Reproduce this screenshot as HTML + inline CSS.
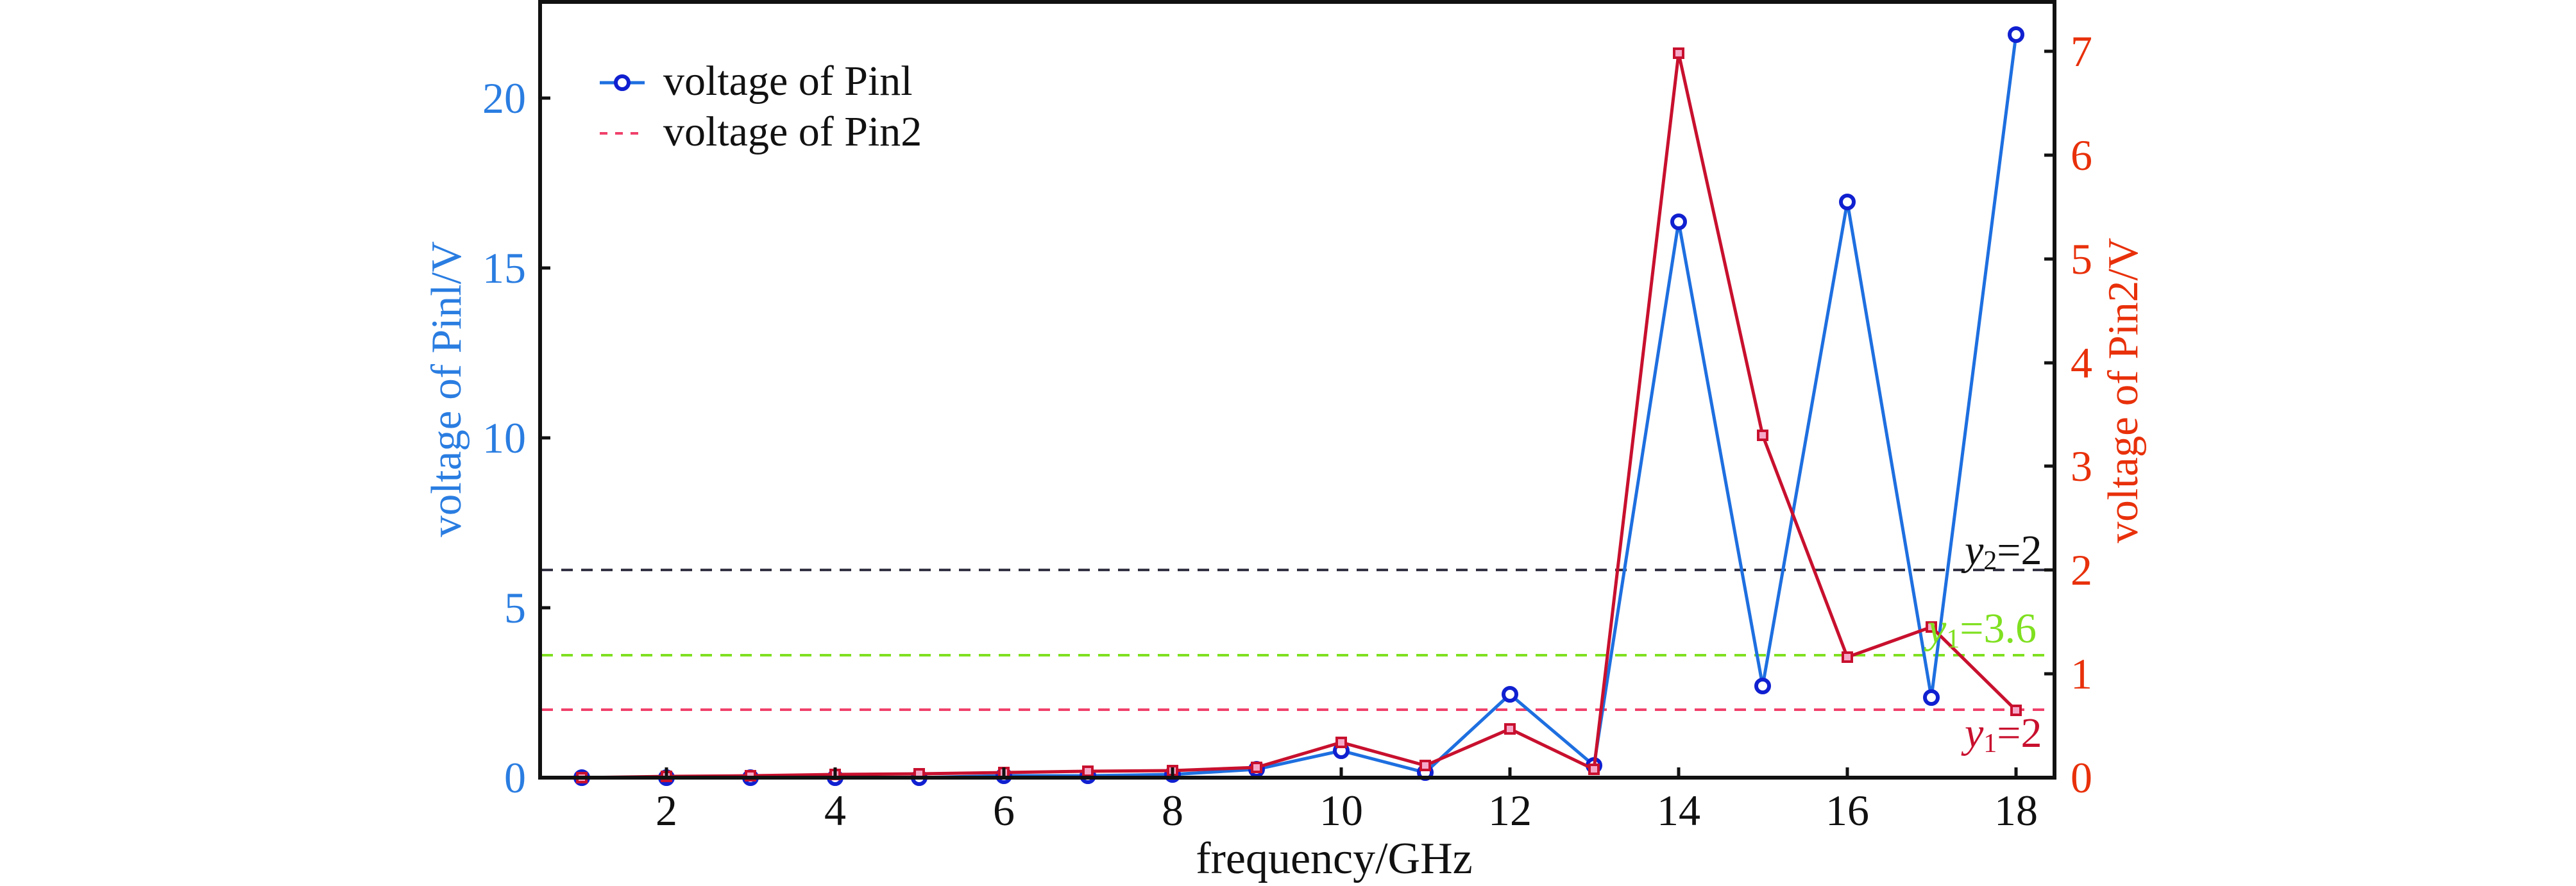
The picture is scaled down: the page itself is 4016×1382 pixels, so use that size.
<!DOCTYPE html>
<html><head><meta charset="utf-8"><style>html,body{margin:0;padding:0;background:#fff}svg{display:block}</style></head><body>
<svg width="4016" height="1382" viewBox="0 0 4016 1382" xmlns="http://www.w3.org/2000/svg" font-family="Liberation Serif, serif">
<rect width="4016" height="1382" fill="#fff"/>
<line x1="844" y1="889" x2="3203" y2="889" stroke="#333344" stroke-width="4" stroke-dasharray="18,13"/>
<line x1="844" y1="1022" x2="3203" y2="1022" stroke="#7fe020" stroke-width="4" stroke-dasharray="18,13"/>
<line x1="844" y1="1107" x2="3203" y2="1107" stroke="#f0406a" stroke-width="4" stroke-dasharray="18,13"/>
<polyline fill="none" stroke="#1e6fe0" stroke-width="5" points="907,1213 1039,1213 1170,1213 1302,1213 1433,1213 1565,1210 1696,1210 1828,1208 1959,1200 2091,1171 2222,1205 2354,1083 2485,1194 2617,346 2748,1070 2880,315 3011,1088 3143,54"/>
<g fill="#fff" stroke="#1020d0" stroke-width="6">
<circle cx="907" cy="1213" r="10"/><circle cx="1039" cy="1213" r="10"/><circle cx="1170" cy="1213" r="10"/><circle cx="1302" cy="1213" r="10"/><circle cx="1433" cy="1213" r="10"/><circle cx="1565" cy="1210" r="10"/><circle cx="1696" cy="1210" r="10"/><circle cx="1828" cy="1208" r="10"/><circle cx="1959" cy="1200" r="10"/><circle cx="2091" cy="1171" r="10"/><circle cx="2222" cy="1205" r="10"/><circle cx="2354" cy="1083" r="10"/><circle cx="2485" cy="1194" r="10"/><circle cx="2617" cy="346" r="10"/><circle cx="2748" cy="1070" r="10"/><circle cx="2880" cy="315" r="10"/><circle cx="3011" cy="1088" r="10"/><circle cx="3143" cy="54" r="10"/>
</g>
<polyline fill="none" stroke="#c8102e" stroke-width="5" points="907,1213 1039,1211 1170,1210 1302,1208 1433,1207 1565,1205 1696,1203 1828,1202 1959,1197 2091,1158 2222,1194 2354,1137 2485,1200 2617,83 2748,679 2880,1025 3011,978 3143,1108"/>
<g fill="#f6a8c8" stroke="#c8102e" stroke-width="4">
<rect x="900" y="1206" width="14" height="14"/><rect x="1032" y="1204" width="14" height="14"/><rect x="1163" y="1203" width="14" height="14"/><rect x="1295" y="1201" width="14" height="14"/><rect x="1426" y="1200" width="14" height="14"/><rect x="1558" y="1198" width="14" height="14"/><rect x="1689" y="1196" width="14" height="14"/><rect x="1821" y="1195" width="14" height="14"/><rect x="1952" y="1190" width="14" height="14"/><rect x="2084" y="1151" width="14" height="14"/><rect x="2215" y="1187" width="14" height="14"/><rect x="2347" y="1130" width="14" height="14"/><rect x="2478" y="1193" width="14" height="14"/><rect x="2610" y="76" width="14" height="14"/><rect x="2741" y="672" width="14" height="14"/><rect x="2873" y="1018" width="14" height="14"/><rect x="3004" y="971" width="14" height="14"/><rect x="3136" y="1101" width="14" height="14"/>
</g>
<rect x="842" y="3" width="2361" height="1210" fill="none" stroke="#111" stroke-width="6"/>
<g stroke="#111" stroke-width="5">
<line x1="1039" y1="1213" x2="1039" y2="1197"/><line x1="1302" y1="1213" x2="1302" y2="1197"/><line x1="1565" y1="1213" x2="1565" y2="1197"/><line x1="1828" y1="1213" x2="1828" y2="1197"/><line x1="2091" y1="1213" x2="2091" y2="1197"/><line x1="2354" y1="1213" x2="2354" y2="1197"/><line x1="2617" y1="1213" x2="2617" y2="1197"/><line x1="2880" y1="1213" x2="2880" y2="1197"/><line x1="3143" y1="1213" x2="3143" y2="1197"/>
<line x1="842" y1="948" x2="858" y2="948"/><line x1="842" y1="683" x2="858" y2="683"/><line x1="842" y1="418" x2="858" y2="418"/><line x1="842" y1="153" x2="858" y2="153"/>
<line x1="3203" y1="1051" x2="3187" y2="1051"/><line x1="3203" y1="889" x2="3187" y2="889"/><line x1="3203" y1="727" x2="3187" y2="727"/><line x1="3203" y1="566" x2="3187" y2="566"/><line x1="3203" y1="404" x2="3187" y2="404"/><line x1="3203" y1="242" x2="3187" y2="242"/><line x1="3203" y1="80" x2="3187" y2="80"/>
</g>
<g font-size="68" fill="#111" text-anchor="middle">
<text x="1039" y="1287">2</text><text x="1302" y="1287">4</text><text x="1565" y="1287">6</text><text x="1828" y="1287">8</text><text x="2091" y="1287">10</text><text x="2354" y="1287">12</text><text x="2617" y="1287">14</text><text x="2880" y="1287">16</text><text x="3143" y="1287">18</text>
<text x="2080" y="1362" font-size="70">frequency/GHz</text>
</g>
<g font-size="68" fill="#2a7de1" text-anchor="end">
<text x="820" y="1236">0</text><text x="820" y="971">5</text><text x="820" y="706">10</text><text x="820" y="441">15</text><text x="820" y="176">20</text>
</g>
<text transform="translate(718,607) rotate(-90)" font-size="67" fill="#2a7de1" text-anchor="middle">voltage of Pinl/V</text>
<g font-size="68" fill="#e8300a" text-anchor="start">
<text x="3228" y="1236">0</text><text x="3228" y="1074">1</text><text x="3228" y="912">2</text><text x="3228" y="750">3</text><text x="3228" y="589">4</text><text x="3228" y="427">5</text><text x="3228" y="265">6</text><text x="3228" y="103">7</text>
</g>
<text transform="translate(3332,609) rotate(-90)" font-size="67" fill="#e8300a" text-anchor="middle">voltage of Pin2/V</text>
<text x="3063" y="880" font-size="66" fill="#111"><tspan font-style="italic">y</tspan><tspan font-size="42" dy="8">2</tspan><tspan dy="-8">=2</tspan></text>
<text x="3005" y="1002" font-size="66" fill="#7fe020"><tspan font-style="italic">y</tspan><tspan font-size="42" dy="8">1</tspan><tspan dy="-8">=3.6</tspan></text>
<text x="3063" y="1165" font-size="66" fill="#c8102e"><tspan font-style="italic">y</tspan><tspan font-size="42" dy="8">1</tspan><tspan dy="-8">=2</tspan></text>
<line x1="935" y1="129" x2="1005" y2="129" stroke="#1e6fe0" stroke-width="5"/>
<circle cx="970" cy="129" r="10" fill="#fff" stroke="#1020d0" stroke-width="6"/>
<line x1="935" y1="208" x2="1005" y2="208" stroke="#f0406a" stroke-width="4" stroke-dasharray="12,12"/>
<text x="1034" y="148" font-size="66" fill="#111">voltage of Pinl</text>
<text x="1034" y="227" font-size="66" fill="#111">voltage of Pin2</text>
</svg>
</body></html>
